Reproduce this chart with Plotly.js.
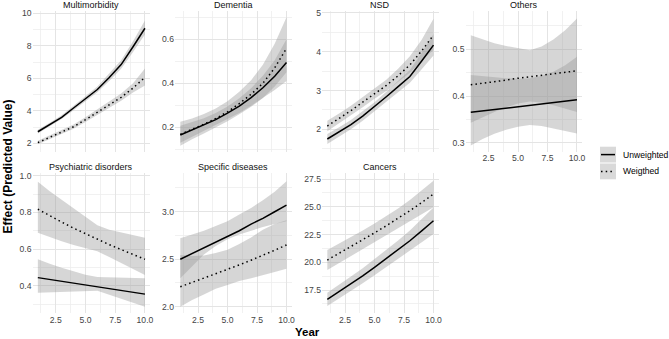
<!DOCTYPE html>
<html>
<head>
<meta charset="utf-8">
<script src="https://cdn.plot.ly/plotly-3.0.1.min.js"></script>
<style>
  html, body { margin: 0; padding: 0; background: #ffffff; }
  #chart { width: 669px; height: 339px; }
</style>
</head>
<body>
<div id="chart"></div>
<script>
// Follow-up year
const years = [1, 2, 3, 4, 5, 6, 7, 8, 9, 10];

// Facet labels
const panelNames = ["Multimorbidity", "Dementia", "NSD", "Others",
                    "Psychiatric disorders", "Specific diseases", "Cancers"];
const seriesNames = ["Unweighted", "Weigthed"];

// Multimorbidity
const mmUnw   = [2.71, 3.15, 3.60, 4.17, 4.74, 5.31, 6.05, 6.84, 7.94, 9.08];
const mmUnwLo = [2.60, 3.04, 3.49, 4.04, 4.59, 5.14, 5.84, 6.58, 7.62, 8.70];
const mmUnwHi = [2.83, 3.26, 3.72, 4.31, 4.90, 5.49, 6.27, 7.11, 8.28, 9.55];
const mmW     = [2.04, 2.35, 2.68, 3.02, 3.45, 3.90, 4.38, 4.83, 5.40, 6.06];
const mmWLo   = [1.94, 2.25, 2.57, 2.90, 3.31, 3.74, 4.19, 4.61, 5.12, 5.56];
const mmWHi   = [2.15, 2.46, 2.80, 3.15, 3.60, 4.07, 4.58, 5.07, 5.70, 6.60];

// Dementia
const dmUnw   = [0.165, 0.188, 0.210, 0.235, 0.264, 0.296, 0.335, 0.380, 0.432, 0.494];
const dmUnwLo = [0.130, 0.157, 0.183, 0.209, 0.237, 0.265, 0.298, 0.333, 0.370, 0.410];
const dmUnwHi = [0.207, 0.223, 0.241, 0.265, 0.295, 0.332, 0.378, 0.434, 0.505, 0.600];
const dmW     = [0.168, 0.190, 0.214, 0.240, 0.270, 0.308, 0.350, 0.400, 0.470, 0.559];
const dmWLo   = [0.116, 0.146, 0.172, 0.199, 0.228, 0.259, 0.293, 0.333, 0.385, 0.450];
const dmWHi   = [0.225, 0.240, 0.260, 0.286, 0.318, 0.362, 0.414, 0.484, 0.580, 0.700];

// NSD
const nsdUnw   = [1.75, 1.93, 2.12, 2.34, 2.58, 2.84, 3.10, 3.36, 3.76, 4.17];
const nsdUnwLo = [1.62, 1.81, 2.00, 2.22, 2.46, 2.71, 2.96, 3.20, 3.55, 3.90];
const nsdUnwHi = [1.88, 2.05, 2.24, 2.46, 2.70, 2.97, 3.24, 3.53, 3.97, 4.45];
const nsdW     = [2.085, 2.28, 2.48, 2.70, 2.92, 3.13, 3.38, 3.66, 4.02, 4.43];
const nsdWLo   = [1.95, 2.15, 2.35, 2.57, 2.79, 2.99, 3.22, 3.46, 3.76, 4.05];
const nsdWHi   = [2.22, 2.41, 2.61, 2.83, 3.05, 3.28, 3.56, 3.88, 4.31, 4.85];

// Others
const otUnw   = [0.365, 0.368, 0.371, 0.374, 0.377, 0.380, 0.383, 0.386, 0.389, 0.392];
const otUnwLo = [0.294, 0.308, 0.319, 0.328, 0.334, 0.338, 0.336, 0.331, 0.326, 0.320];
const otUnwHi = [0.445, 0.442, 0.440, 0.438, 0.437, 0.438, 0.443, 0.452, 0.466, 0.484];
const otW     = [0.424, 0.427, 0.431, 0.434, 0.438, 0.441, 0.444, 0.447, 0.451, 0.454];
const otWLo   = [0.343, 0.355, 0.366, 0.376, 0.384, 0.388, 0.386, 0.380, 0.373, 0.366];
const otWHi   = [0.530, 0.521, 0.513, 0.507, 0.502, 0.498, 0.506, 0.521, 0.541, 0.566];

// Psychiatric disorders
const psUnw   = [0.444, 0.434, 0.424, 0.414, 0.404, 0.394, 0.384, 0.374, 0.364, 0.354];
const psUnwLo = [0.362, 0.365, 0.368, 0.370, 0.372, 0.373, 0.351, 0.329, 0.307, 0.285];
const psUnwHi = [0.544, 0.520, 0.498, 0.477, 0.460, 0.447, 0.444, 0.442, 0.441, 0.440];
const psW     = [0.817, 0.781, 0.747, 0.714, 0.683, 0.653, 0.624, 0.597, 0.570, 0.544];
const psWLo   = [0.689, 0.665, 0.643, 0.622, 0.603, 0.588, 0.556, 0.524, 0.491, 0.458];
const psWHi   = [0.967, 0.915, 0.867, 0.820, 0.775, 0.730, 0.705, 0.688, 0.675, 0.662];

// Specific diseases
const spUnw   = [2.50, 2.56, 2.62, 2.68, 2.74, 2.80, 2.87, 2.93, 3.00, 3.07];
const spUnwLo = [2.30, 2.43, 2.55, 2.64, 2.71, 2.76, 2.80, 2.84, 2.87, 2.90];
const spUnwHi = [2.72, 2.76, 2.80, 2.85, 2.90, 2.97, 3.04, 3.12, 3.21, 3.32];
const spW     = [2.21, 2.255, 2.30, 2.345, 2.395, 2.44, 2.49, 2.54, 2.595, 2.65];
const spWLo   = [2.00, 2.07, 2.13, 2.19, 2.23, 2.27, 2.30, 2.33, 2.365, 2.40];
const spWHi   = [2.544, 2.535, 2.54, 2.565, 2.60, 2.66, 2.73, 2.81, 2.87, 2.91];

// Cancers
const caUnw   = [16.66, 17.35, 18.06, 18.78, 19.55, 20.33, 21.12, 21.94, 22.83, 23.74];
const caUnwLo = [16.06, 16.73, 17.41, 18.10, 18.83, 19.56, 20.28, 21.01, 21.78, 22.54];
const caUnwHi = [17.26, 17.97, 18.71, 19.46, 20.27, 21.10, 21.96, 22.87, 23.88, 24.94];
const caW     = [20.20, 20.80, 21.40, 22.02, 22.65, 23.29, 23.95, 24.65, 25.38, 26.15];
const caWLo   = [19.30, 19.92, 20.55, 21.18, 21.81, 22.43, 23.05, 23.68, 24.31, 24.95];
const caWHi   = [21.10, 21.68, 22.25, 22.86, 23.49, 24.15, 24.85, 25.62, 26.45, 27.35];

const panelData = [
  [mmUnw, mmUnwLo, mmUnwHi, mmW, mmWLo, mmWHi],
  [dmUnw, dmUnwLo, dmUnwHi, dmW, dmWLo, dmWHi],
  [nsdUnw, nsdUnwLo, nsdUnwHi, nsdW, nsdWLo, nsdWHi],
  [otUnw, otUnwLo, otUnwHi, otW, otWLo, otWHi],
  [psUnw, psUnwLo, psUnwHi, psW, psWLo, psWHi],
  [spUnw, spUnwLo, spUnwHi, spW, spWLo, spWHi],
  [caUnw, caUnwLo, caUnwHi, caW, caWLo, caWHi]
];

// ---- layout geometry (pixels on a 669 x 339 canvas) ----
const W = 669, H = 339;
const px = v => v / W;
const py = v => 1 - v / H;

const colX = [[32.5, 150.3], [175, 291.8], [322, 438.8], [465.5, 582.3]];
const rowY = [[11, 151.5], [172.5, 313]];
const cell = [[0,0],[1,0],[2,0],[3,0],[0,1],[1,1],[2,1]];

// y scales per facet (free scales)
const yStyle = [
  { range: [1.495, 10.14],  dtick: 2,   minor: 1,    fmt: "d"   },
  { range: [0.090, 0.7286], dtick: 0.2, minor: 0.1,  fmt: ".1f" },
  { range: [1.428, 5.049],  dtick: 1,   minor: 0.5,  fmt: "d"   },
  { range: [0.2812, 0.582], dtick: 0.1, minor: 0.05, fmt: ".1f" },
  { range: [0.251, 1.0175], dtick: 0.2, minor: 0.1,  fmt: ".1f" },
  { range: [1.934, 3.413],  dtick: 0.5, minor: 0.25, fmt: ".1f" },
  { range: [15.43, 28.09],  dtick: 2.5, minor: 1.25, fmt: ".1f" }
];

const FONT = "Liberation Sans, Arial, Helvetica, sans-serif";
const TICK_COLOR = "#444444";
const ribbonFill = "rgba(153,153,153,0.4)";
const dotDash = "1.5px,3.2px";
const GRID = "#E4E4E4";
const GRID_MINOR = "#EDEDED";

const traces = [];
const layout = {
  width: W, height: H,
  margin: { l: 0, r: 0, t: 0, b: 0 },
  paper_bgcolor: "#ffffff",
  plot_bgcolor: "#ffffff",
  showlegend: false,
  font: { family: FONT, size: 8.6, color: TICK_COLOR },
  annotations: [],
  shapes: []
};

panelData.forEach((d, i) => {
  const n = i + 1;
  const xa = n === 1 ? "x" : "x" + n;
  const ya = n === 1 ? "y" : "y" + n;
  const [c, r] = cell[i];
  const [unw, unwLo, unwHi, wt, wtLo, wtHi] = d;

  const band = (lo, hi) => ({
    x: years.concat(years.slice().reverse()),
    y: lo.concat(hi.slice().reverse()),
    xaxis: xa, yaxis: ya,
    type: "scatter", mode: "lines",
    fill: "toself", fillcolor: ribbonFill,
    line: { width: 0, color: "rgba(0,0,0,0)" },
    hoverinfo: "skip"
  });
  traces.push(band(unwLo, unwHi));
  traces.push(band(wtLo, wtHi));
  traces.push({
    x: years, y: unw, xaxis: xa, yaxis: ya, name: seriesNames[0],
    type: "scatter", mode: "lines",
    line: { color: "#000000", width: 1.5 }
  });
  traces.push({
    x: years, y: wt, xaxis: xa, yaxis: ya, name: seriesNames[1],
    type: "scatter", mode: "lines",
    line: { color: "#000000", width: 1.5, dash: dotDash }
  });

  const showX = (r === 1) || (c === 3);
  layout[n === 1 ? "xaxis" : "xaxis" + n] = {
    domain: [px(colX[c][0]), px(colX[c][1])],
    anchor: ya,
    range: [0.55, 10.45],
    tick0: 0, dtick: 2.5, tickformat: ".1f",
    showticklabels: showX,
    ticks: "", zeroline: false, showline: false,
    showgrid: true, gridcolor: GRID, gridwidth: 1,
    minor: { dtick: 1.25, tick0: 0, showgrid: true, gridcolor: GRID_MINOR, gridwidth: 0.8 },
    tickfont: { family: FONT, size: 8.6, color: TICK_COLOR },
    fixedrange: true
  };
  const ys = yStyle[i];
  layout[n === 1 ? "yaxis" : "yaxis" + n] = {
    domain: [py(rowY[r][1]), py(rowY[r][0])],
    anchor: xa,
    range: ys.range,
    tick0: 0, dtick: ys.dtick, tickformat: ys.fmt,
    ticks: "", zeroline: false, showline: false,
    showgrid: true, gridcolor: GRID, gridwidth: 1,
    minor: { dtick: ys.minor, tick0: 0, showgrid: true, gridcolor: GRID_MINOR, gridwidth: 0.8 },
    tickfont: { family: FONT, size: 8.6, color: TICK_COLOR },
    fixedrange: true
  };

  // facet strip label
  layout.annotations.push({
    xref: "paper", yref: "paper",
    x: px((colX[c][0] + colX[c][1]) / 2),
    y: py(r === 0 ? 5 : 166.5),
    xanchor: "center", yanchor: "middle",
    text: panelNames[i], showarrow: false,
    font: { family: FONT, size: 9, color: "#111111" }
  });
});

// axis titles
layout.annotations.push({
  xref: "paper", yref: "paper",
  x: px(307.5), y: py(331.5), xanchor: "center", yanchor: "middle",
  text: "<b>Year</b>", showarrow: false,
  font: { family: FONT, size: 11.5, color: "#000000" }
});
layout.annotations.push({
  xref: "paper", yref: "paper",
  x: px(7.5), y: py(167), xanchor: "center", yanchor: "middle",
  text: "<b>Effect (Predicted Value)</b>", textangle: -90, showarrow: false,
  font: { family: FONT, size: 12, color: "#000000" }
});

// legend keys: ribbon swatch with line sample
const keyY = [[146.7, 162.5], [163.5, 179.3]];
seriesNames.forEach((name, k) => {
  layout.shapes.push({
    type: "rect", xref: "paper", yref: "paper",
    x0: px(600), x1: px(616), y0: py(keyY[k][1]), y1: py(keyY[k][0]),
    fillcolor: "#D9D9D9", line: { width: 0 }, layer: "above"
  });
  const mid = (keyY[k][0] + keyY[k][1]) / 2;
  layout.shapes.push({
    type: "line", xref: "paper", yref: "paper",
    x0: px(601), x1: px(615), y0: py(mid), y1: py(mid),
    line: { color: "#000000", width: 1.5, dash: k === 0 ? "solid" : dotDash },
    layer: "above"
  });
  layout.annotations.push({
    xref: "paper", yref: "paper",
    x: px(621), y: py(mid), xanchor: "left", yanchor: "middle",
    text: name, showarrow: false,
    font: { family: FONT, size: 8.6, color: "#000000" }
  });
});

Plotly.newPlot("chart", traces, layout, { staticPlot: true, displayModeBar: false });
</script>
</body>
</html>
